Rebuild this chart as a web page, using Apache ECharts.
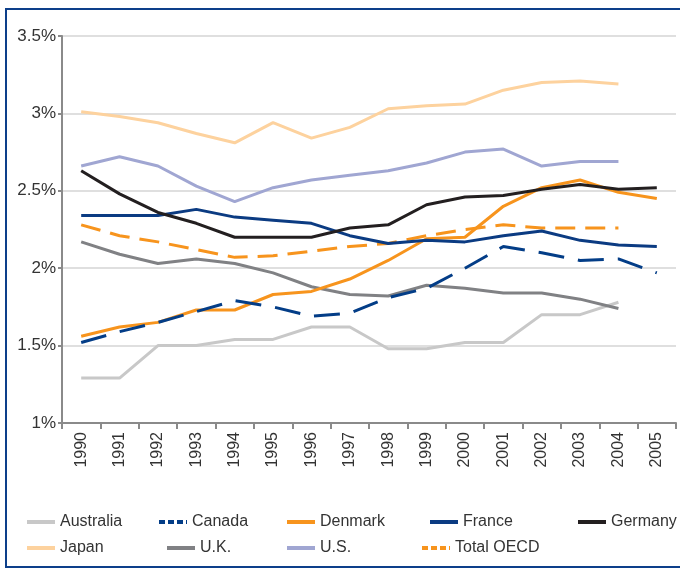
<!DOCTYPE html>
<html lang="en">
<head>
    <meta charset="UTF-8">
    <script src="https://cdn.jsdelivr.net/npm/echarts@6/dist/echarts.min.js"></script>
    <style>
        html, body { margin: 0; padding: 0; background: #fff; }
    </style>
</head>
<body>
<div style="width: 680px;height: 568px" id="chart"></div>

<script>
    // years on the x axis
    var years = ['1990','1991','1992','1993','1994','1995','1996','1997','1998','1999','2000','2001','2002','2003','2004','2005']
    var yTicks = [1, 1.5, 2, 2.5, 3, 3.5]

    // values in %
    var australia = [1.29,1.29,1.50,1.50,1.54,1.54,1.62,1.62,1.48,1.48,1.52,1.52,1.70,1.70,1.78,null]
    var canada    = [1.52,1.59,1.65,1.72,1.79,1.75,1.69,1.71,1.81,1.87,2.00,2.14,2.10,2.05,2.06,1.97]
    var denmark   = [1.56,1.62,1.65,1.73,1.73,1.83,1.85,1.93,2.05,2.19,2.20,2.40,2.52,2.57,2.49,2.45]
    var france    = [2.34,2.34,2.34,2.38,2.33,2.31,2.29,2.21,2.16,2.18,2.17,2.21,2.24,2.18,2.15,2.14]
    var germany   = [2.63,2.48,2.36,2.29,2.20,2.20,2.20,2.26,2.28,2.41,2.46,2.47,2.51,2.54,2.51,2.52]
    var japan     = [3.01,2.98,2.94,2.87,2.81,2.94,2.84,2.91,3.03,3.05,3.06,3.15,3.20,3.21,3.19,null]
    var uk        = [2.17,2.09,2.03,2.06,2.03,1.97,1.88,1.83,1.82,1.89,1.87,1.84,1.84,1.80,1.74,null]
    var us        = [2.66,2.72,2.66,2.53,2.43,2.52,2.57,2.60,2.63,2.68,2.75,2.77,2.66,2.69,2.69,null]
    var oecd      = [2.28,2.21,2.17,2.12,2.07,2.08,2.11,2.14,2.16,2.21,2.25,2.28,2.26,2.26,2.26,null]

    var font = 'Liberation Sans'
    var chartDom = document.getElementById('chart');
    var myChart = echarts.init(chartDom);

    function line(name, data, color, dash) {
        return {
            name: name,
            type: 'line',
            data: data,
            symbol: 'none',
            silent: true,
            lineStyle: { color: color, width: 3, type: dash || 'solid', cap: 'butt' },
            itemStyle: { color: color }
        }
    }

    // one legend per item so each sits where the original puts it
    function leg(name, left, top, dash) {
        return {
            data: [name],
            left: left,
            top: top,
            itemWidth: 28,
            itemHeight: 14,
            itemGap: 0,
            selectedMode: false,
            textStyle: { fontFamily: font, fontSize: 16, color: '#333' },
            itemStyle: { opacity: 0 },
            lineStyle: { width: 4, type: dash || 'solid', cap: 'butt' }
        }
    }

    var option = {
        animation: false,
        backgroundColor: '#fff',
        graphic: [{
            type: 'rect',
            shape: { x: 6, y: 9, width: 700, height: 558 },
            style: { fill: 'none', stroke: '#0d3f8a', lineWidth: 2 },
            silent: true
        }],
        legend: [
            leg('Australia', 20, 509),
            leg('Canada', 152, 509, [6, 3]),
            leg('Denmark', 280, 509),
            leg('France', 423, 509),
            leg('Germany', 571, 509),
            leg('Japan', 20, 535),
            leg('U.K.', 160, 535),
            leg('U.S.', 280, 535),
            leg('Total OECD', 415, 535, [6, 3])
        ],
        grid: { left: 62, top: 36, right: 4, bottom: 145 },
        xAxis: {
            type: 'category',
            data: years,
            boundaryGap: true,
            axisLine: { lineStyle: { color: '#8a8a8a', width: 2 } },
            axisTick: { show: true, length: 6, lineStyle: { color: '#8a8a8a', width: 2 } },
            axisLabel: { rotate: 90, interval: 0, margin: 9, fontFamily: font, fontSize: 16, color: '#333' },
            splitLine: { show: false }
        },
        yAxis: {
            type: 'value',
            min: 1,
            max: 3.5,
            interval: 0.5,
            axisLine: { show: true, lineStyle: { color: '#8a8a8a', width: 2 } },
            axisTick: { show: true, length: 4, lineStyle: { color: '#8a8a8a', width: 2 } },
            axisLabel: {
                fontFamily: font, fontSize: 17, color: '#333', margin: 6,
                formatter: function (v) { return yTicks.indexOf(v) >= 0 ? v + '%' : '' }
            },
            splitLine: { lineStyle: { color: '#d4d4d4', width: 1.5 } }
        },
        series: [
            line('Japan', japan, '#fdd29e'),
            line('U.S.', us, '#a0a6d2'),
            line('Australia', australia, '#c8c8c8'),
            line('U.K.', uk, '#808184'),
            line('Total OECD', oecd, '#f7941d', [20, 10]),
            line('Denmark', denmark, '#f7941d'),
            line('France', france, '#0b3b82'),
            line('Canada', canada, '#033d87', [26, 14]),
            line('Germany', germany, '#231f20')
        ]
    };

    option && myChart.setOption(option);
</script>
</body>
</html>
